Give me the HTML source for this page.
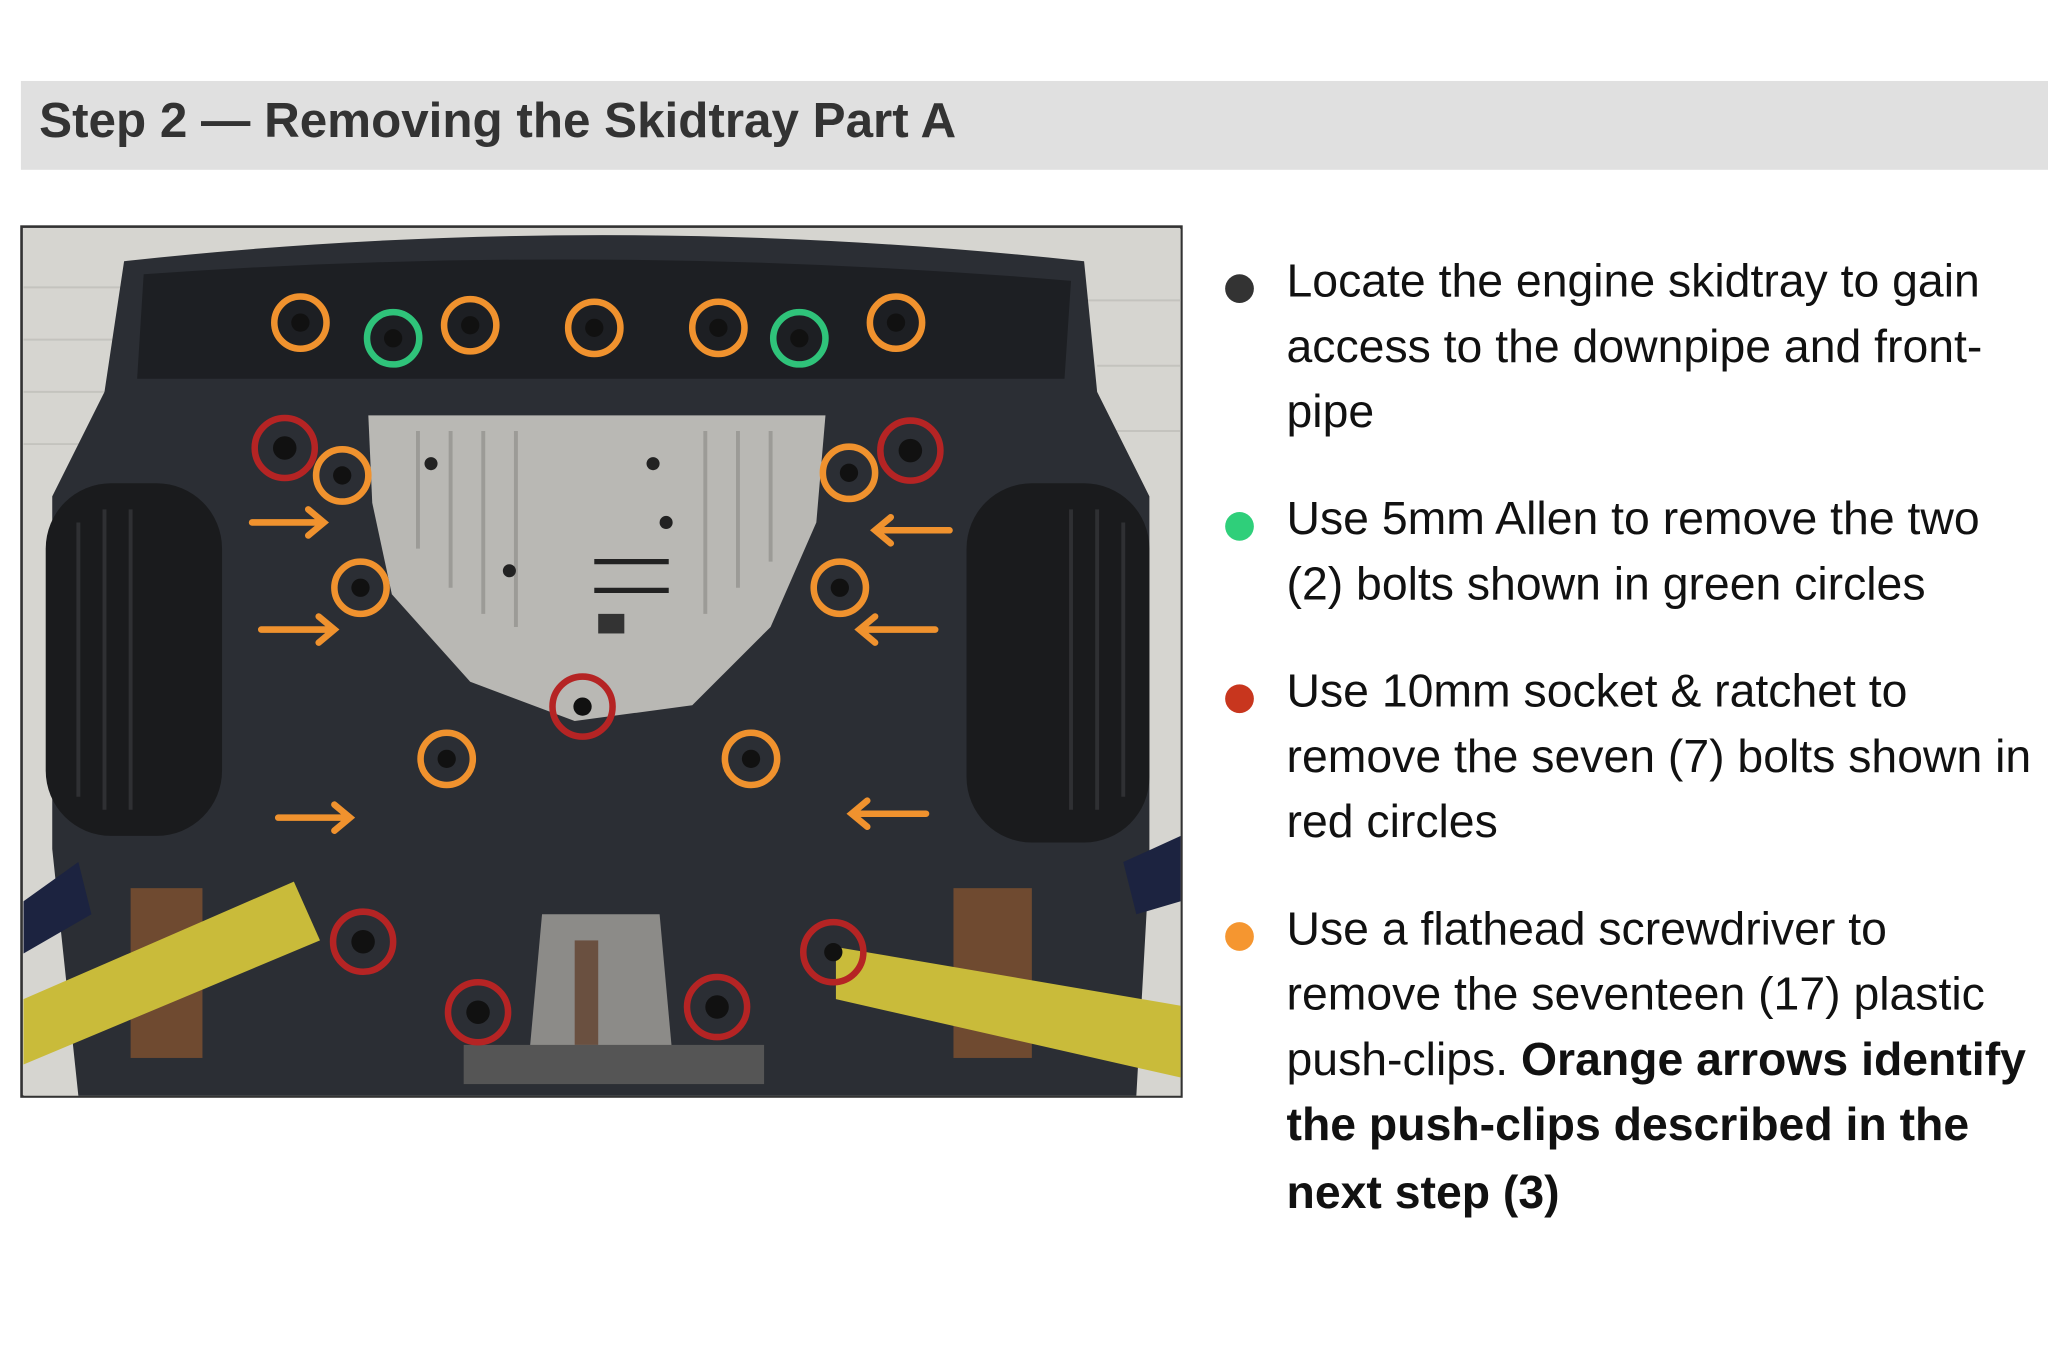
<!DOCTYPE html>
<html><head><meta charset="utf-8"><style>
html,body{margin:0;padding:0;background:#fff;}
svg{display:block}
text{font-family:"Liberation Sans",Arial,sans-serif;}
</style></head><body>
<svg width="2048" height="1360" viewBox="0 0 1568 1041.25" xmlns="http://www.w3.org/2000/svg">
<rect x="0" y="0" width="1568" height="1042" fill="#fff"/>
<rect x="16" y="62" width="1552" height="68" fill="#e0e0e0"/>
<text x="30" y="105" font-size="37.8" font-weight="bold" fill="#333">Step 2 — Removing the Skidtray Part A</text>

<rect x="16.5" y="173.5" width="888" height="666" fill="#d8d7d3" stroke="#333" stroke-width="2"/>
<g clip-path="url(#c)">
<clipPath id="c"><rect x="18" y="175" width="886" height="664"/></clipPath>
<rect x="18" y="175" width="886" height="664" fill="#d6d5d0"/>
<g stroke="#c4c3be" stroke-width="1.5">
<line x1="18" y1="220" x2="110" y2="220"/><line x1="18" y1="260" x2="100" y2="260"/><line x1="18" y1="300" x2="90" y2="300"/><line x1="18" y1="340" x2="80" y2="340"/>
<line x1="820" y1="230" x2="904" y2="230"/><line x1="840" y1="280" x2="904" y2="280"/><line x1="850" y1="330" x2="904" y2="330"/>
</g>
<path d="M95 200 Q460 160 830 200 L840 300 L880 380 L880 660 L870 839 L60 839 L40 650 L40 380 L80 300 Z" fill="#2b2e34"/>
<path d="M110 210 Q460 185 820 215 L815 290 L105 290 Z" fill="#1d1f23"/>
<rect x="35" y="370" width="135" height="270" rx="50" fill="#1a1b1d"/>
<rect x="740" y="370" width="140" height="275" rx="50" fill="#1a1b1d"/>
<g stroke="#2f3033" stroke-width="3">
<line x1="60" y1="400" x2="60" y2="610"/><line x1="80" y1="390" x2="80" y2="620"/><line x1="100" y1="390" x2="100" y2="620"/>
<line x1="820" y1="390" x2="820" y2="620"/><line x1="840" y1="390" x2="840" y2="620"/><line x1="860" y1="400" x2="860" y2="610"/>
</g>
<path d="M282 318 L632 318 L625 400 L590 480 L530 540 L440 552 L360 522 L300 455 L285 385 Z" fill="#b9b8b4"/>
<g stroke="#9c9b97" stroke-width="3">
<line x1="320" y1="330" x2="320" y2="420"/><line x1="345" y1="330" x2="345" y2="450"/><line x1="370" y1="330" x2="370" y2="470"/><line x1="395" y1="330" x2="395" y2="480"/>
<line x1="540" y1="330" x2="540" y2="470"/><line x1="565" y1="330" x2="565" y2="450"/><line x1="590" y1="330" x2="590" y2="430"/>
</g>
<g fill="#222"><circle cx="330" cy="355" r="5"/><circle cx="500" cy="355" r="5"/><circle cx="510" cy="400" r="5"/><circle cx="390" cy="437" r="5"/></g>
<line x1="455" y1="430" x2="512" y2="430" stroke="#222" stroke-width="4"/>
<line x1="455" y1="452" x2="512" y2="452" stroke="#222" stroke-width="4"/>
<rect x="458" y="470" width="20" height="15" fill="#333"/>
<path d="M415 700 L505 700 L515 810 L405 810 Z" fill="#8c8b88"/>
<rect x="440" y="720" width="18" height="80" fill="#6a5040"/>
<rect x="355" y="800" width="230" height="30" fill="#555"/>
<rect x="100" y="680" width="55" height="130" fill="#6f4a30"/>
<rect x="730" y="680" width="60" height="130" fill="#6f4a30"/>
<path d="M18 765 L225 675 L245 720 L18 815 Z" fill="#c9bb3a"/>
<path d="M640 725 L904 770 L904 825 L640 765 Z" fill="#c9bb3a"/>
<path d="M18 690 L60 660 L70 700 L18 730 Z" fill="#1c2340"/>
<path d="M904 640 L860 660 L870 700 L904 690 Z" fill="#1c2340"/>
</g>
<g fill="#111">
<circle cx="230" cy="247" r="7"/><circle cx="360" cy="249" r="7"/><circle cx="455" cy="251" r="7"/><circle cx="550" cy="251" r="7"/><circle cx="686" cy="247" r="7"/>
<circle cx="262" cy="364" r="7"/><circle cx="650" cy="362" r="7"/><circle cx="276" cy="450" r="7"/><circle cx="643" cy="450" r="7"/><circle cx="342" cy="581" r="7"/><circle cx="575" cy="581" r="7"/>
<circle cx="301" cy="259" r="7"/><circle cx="612" cy="259" r="7"/>
<circle cx="218" cy="343" r="9"/><circle cx="697" cy="345" r="9"/><circle cx="446" cy="541" r="7"/><circle cx="278" cy="721" r="9"/><circle cx="366" cy="775" r="9"/><circle cx="549" cy="771" r="9"/><circle cx="638" cy="729" r="7"/>
</g>
<g fill="none" stroke="#f0922e" stroke-width="5">
<circle cx="230" cy="247" r="20"/><circle cx="360" cy="249" r="20"/><circle cx="455" cy="251" r="20"/><circle cx="550" cy="251" r="20"/><circle cx="686" cy="247" r="20"/>
<circle cx="262" cy="364" r="20"/><circle cx="650" cy="362" r="20"/><circle cx="276" cy="450" r="20"/><circle cx="643" cy="450" r="20"/><circle cx="342" cy="581" r="20"/><circle cx="575" cy="581" r="20"/>
</g>
<g fill="none" stroke="#2fc37a" stroke-width="5">
<circle cx="301" cy="259" r="20"/><circle cx="612" cy="259" r="20"/>
</g>
<g fill="none" stroke="#b52424" stroke-width="5">
<circle cx="218" cy="343" r="23"/><circle cx="697" cy="345" r="23"/><circle cx="446" cy="541" r="23"/><circle cx="278" cy="721" r="23"/><circle cx="366" cy="775" r="23"/><circle cx="549" cy="771" r="23"/><circle cx="638" cy="729" r="23"/>
</g>
<g stroke="#f0922e" stroke-width="5" fill="none" stroke-linecap="round">
<path d="M193 400 L248 400 M236 390 L248 400 L236 410"/>
<path d="M200 482 L256 482 M244 472 L256 482 L244 492"/>
<path d="M213 626 L268 626 M256 616 L268 626 L256 636"/>
<path d="M727 406 L670 406 M682 396 L670 406 L682 416"/>
<path d="M716 482 L658 482 M670 472 L658 482 L670 492"/>
<path d="M709 623 L652 623 M664 613 L652 623 L664 633"/>
</g>

<circle cx="949" cy="221" r="11" fill="#333"/>
<circle cx="949" cy="403" r="11" fill="#2fcf7a"/>
<circle cx="949" cy="535" r="11" fill="#c8361e"/>
<circle cx="949" cy="717" r="11" fill="#f59630"/>
<g font-size="35.5" fill="#111">
<text x="985" y="227">Locate the engine skidtray to gain</text>
<text x="985" y="277">access to the downpipe and front-</text>
<text x="985" y="327">pipe</text>
<text x="985" y="409">Use 5mm Allen to remove the two</text>
<text x="985" y="459">(2) bolts shown in green circles</text>
<text x="985" y="541">Use 10mm socket &amp; ratchet to</text>
<text x="985" y="591">remove the seven (7) bolts shown in</text>
<text x="985" y="641">red circles</text>
<text x="985" y="723">Use a flathead screwdriver to</text>
<text x="985" y="773">remove the seventeen (17) plastic</text>
<text x="985" y="823">push-clips. <tspan font-weight="bold">Orange arrows identify</tspan></text>
<text x="985" y="873" font-weight="bold">the push-clips described in the</text>
<text x="985" y="925" font-weight="bold">next step (3)</text>
</g>
</svg>
</body></html>
